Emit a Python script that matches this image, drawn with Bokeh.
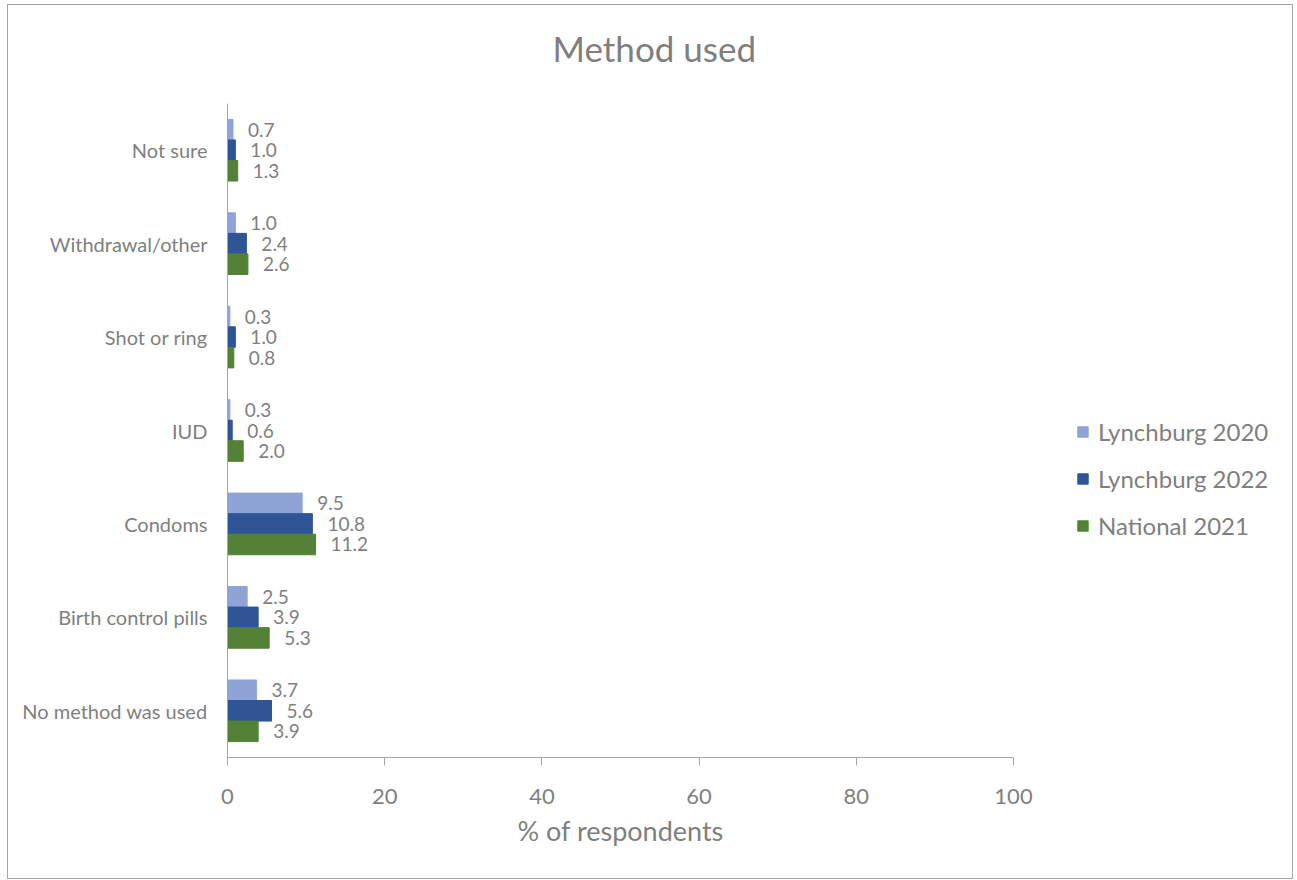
from bokeh.plotting import figure
from bokeh.models import (ColumnDataSource, FactorRange, Range1d, FixedTicker, LabelSet,
                          Legend, LegendItem, Title)
from bokeh.core.properties import value
from bokeh.transform import dodge
from bokeh.embed import file_html
from bokeh.resources import INLINE

# ---- data (bottom to top, as drawn) ----
categories = ["No method was used", "Birth control pills", "Condoms", "IUD",
              "Shot or ring", "Withdrawal/other", "Not sure"]
lynchburg_2020 = [3.7, 2.5, 9.5, 0.3, 0.3, 1.0, 0.7]
lynchburg_2022 = [5.6, 3.9, 10.8, 0.6, 1.0, 2.4, 1.0]
national_2021 = [3.9, 5.3, 11.2, 2.0, 0.8, 2.6, 1.3]
series_names = ["Lynchburg 2020", "Lynchburg 2022", "National 2021"]
x_ticks = [0, 20, 40, 60, 80, 100]
x_label = "% of respondents"
chart_title = "Method used"

colors = ["#8FA3D6", "#2F5597", "#538135"]
TEXT = "#7f7f7f"
FONT = "Lato"

# layout: axis 0..100 spans 786px; frame extends to the right to host the legend
AXIS_PX = 786
FRAME_PX = 1065
x_end = 100 * FRAME_PX / AXIS_PX

source = ColumnDataSource(dict(
    cat=categories,
    a=lynchburg_2020, b=lynchburg_2022, c=national_2021,
    la=[f"{v:.1f}" for v in lynchburg_2020],
    lb=[f"{v:.1f}" for v in lynchburg_2022],
    lc=[f"{v:.1f}" for v in national_2021],
))

p = figure(width=1286, height=875, y_range=FactorRange(*categories),
           x_range=Range1d(0, x_end), output_backend="svg", toolbar_location=None,
           min_border_left=219, min_border_right=1286 - 219 - FRAME_PX, min_border_top=98,
           min_border_bottom=123)
p.margin = (4, 0, 0, 7)
p.styles = {"border": "1px solid #a6a6a6"}
p.outline_line_color = None
p.grid.visible = False

p.title.text = chart_title
p.title.align = "left"
p.title.vertical_align = "top"
p.title.text_font = FONT
p.title.text_font_size = "35px"
p.title.text_font_style = "normal"
p.title.text_color = TEXT
p.title.standoff = 42
p.title.offset = 325

# small spacer between title and plot area
p.add_layout(Title(text=" ", text_font_size="2px", standoff=8), "above")

bw = 0.22
offsets = [bw, 0.0, -bw]
keys = ["a", "b", "c"]
lkeys = ["la", "lb", "lc"]
renderers = []
for k, lk, off, col in zip(keys, lkeys, offsets, colors):
    r = p.hbar(y=dodge("cat", off, range=p.y_range), left=0, right=k, height=bw,
               fill_color=col, line_color=col, source=source)
    renderers.append(r)
    lbl = LabelSet(x=k, y=dodge("cat", off, range=p.y_range), text=lk, source=source,
                   x_offset=15, text_baseline="middle", text_align="left",
                   text_font=value(FONT), text_font_size="19px", text_color=TEXT)
    p.add_layout(lbl)

# axes
xa = p.xaxis[0]
xa.ticker = FixedTicker(ticks=x_ticks)
xa.bounds = (0, 100)
xa.major_label_text_font = FONT
xa.major_label_text_font_size = "22px"
xa.major_label_text_color = TEXT
xa.major_label_standoff = 23
xa.axis_line_color = "#a6a6a6"
xa.major_tick_line_color = "#a6a6a6"
xa.major_tick_out = 8
xa.major_tick_in = 0
xa.minor_tick_line_color = None

# x-axis title, centred under the 0..100 axis
xt = Title(text=x_label, align="left", offset=290, vertical_align="top", standoff=14,
           text_font=FONT, text_font_size="27px", text_font_style="normal",
           text_color=TEXT)
p.add_layout(xt, "below")

ya = p.yaxis[0]
ya.major_label_text_font = FONT
ya.major_label_text_font_size = "20px"
ya.major_label_text_color = TEXT
ya.major_label_standoff = 14
ya.axis_line_color = "#a6a6a6"
ya.major_tick_line_color = None
ya.minor_tick_line_color = None

legend = Legend(items=[LegendItem(label=n, renderers=[r]) for n, r in zip(series_names, renderers)],
                location=(849, 217), orientation="vertical")
legend.label_text_font = FONT
legend.label_text_font_size = "24px"
legend.label_text_color = TEXT
legend.glyph_width = 13
legend.glyph_height = 13
legend.label_height = 24
legend.spacing = 18
legend.label_standoff = 9
legend.padding = 0
legend.margin = 0
legend.border_line_color = None
legend.background_fill_alpha = 0
p.add_layout(legend, "center")

open("out.html", "w").write(file_html(p, INLINE))
